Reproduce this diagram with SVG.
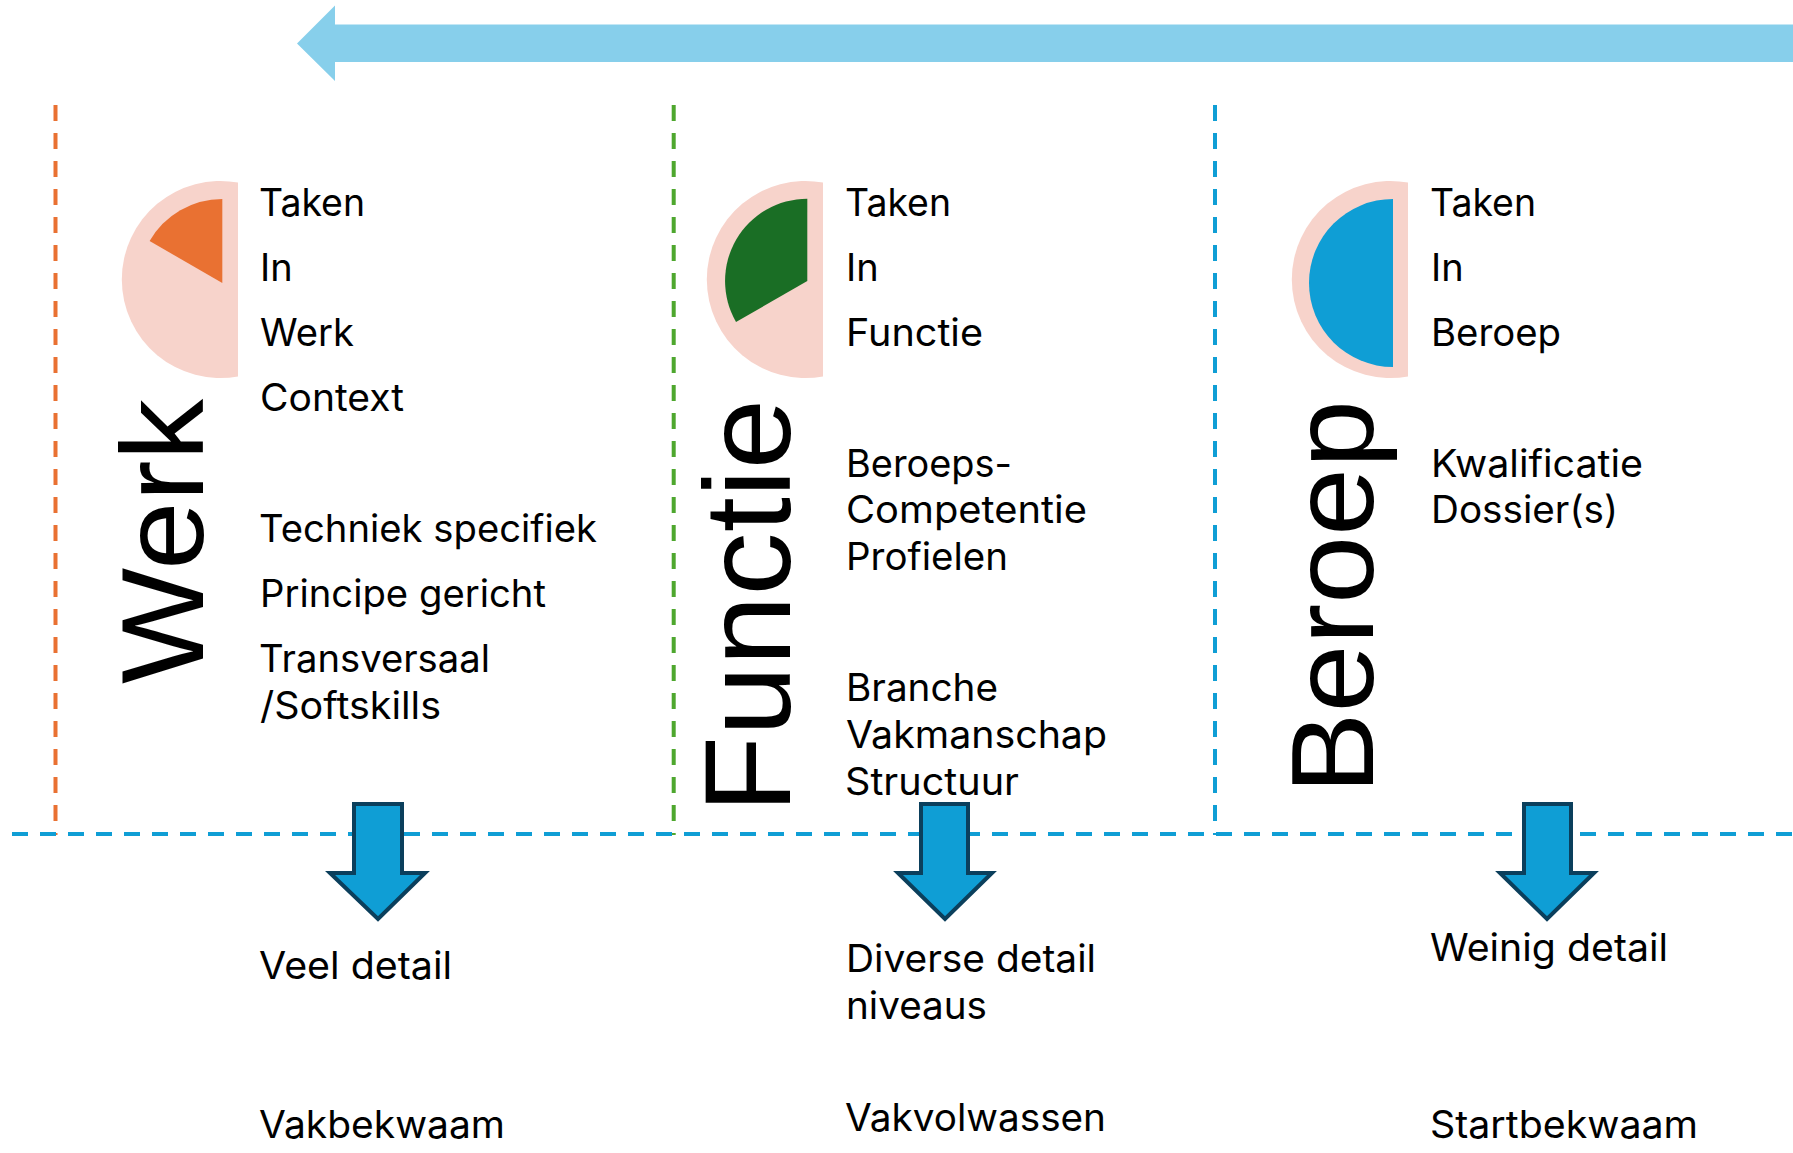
<svg xmlns="http://www.w3.org/2000/svg" width="1793" height="1153" viewBox="0 0 1793 1153">
<style>
.t{font-family:"Inter","Liberation Sans",sans-serif;font-size:38px;fill:#000}
.b{font-family:"Liberation Sans",sans-serif;font-size:117px;fill:#000}
.bg{fill:#f7d3cb}
.d{fill:none;stroke-width:4;stroke-dasharray:16 12}
.a{fill:#0f9ed5;stroke:#0b3f5c;stroke-width:4}
</style>
<rect width="1793" height="1153" fill="#fff"/>
<g id="connectors">
<path class="d" d="M55.500 105V835" stroke="#e97132"/>
<path class="d" d="M673.700 105V835" stroke="#4ea72e"/>
<path class="d" d="M1215 105V835" stroke="#0f9ed5"/>
<path class="d" d="M12 834H1793" stroke="#0f9ed5"/>
</g>
<path id="timeline" d="M1793 24.500H335V5.500L297 43.500L335 81V62H1793Z" fill="#87cfeb"/>
<g id="werk">
<path class="bg" d="M238 182.600A98.500 98.500 0 1 0 238 376.400Z"/>
<path d="M222.300 283V199A84 84 0 0 0 149.600 241Z" fill="#e97132"/>
<text class="b" transform="translate(203 684) rotate(-90)" textLength="285" lengthAdjust="spacingAndGlyphs">Werk</text>
<text class="t" x="259" y="216" textLength="106" lengthAdjust="spacingAndGlyphs">Taken</text><text class="t" x="260" y="281">In</text><text class="t" x="260" y="346" textLength="94" lengthAdjust="spacingAndGlyphs">Werk</text><text class="t" x="260" y="411" textLength="144" lengthAdjust="spacingAndGlyphs">Context</text>
<text class="t" x="259" y="542" textLength="338" lengthAdjust="spacingAndGlyphs">Techniek specifiek</text><text class="t" x="260" y="607" textLength="286" lengthAdjust="spacingAndGlyphs">Principe gericht</text><text class="t" x="259" y="672" textLength="231" lengthAdjust="spacingAndGlyphs">Transversaal</text><text class="t" x="260" y="719" textLength="181" lengthAdjust="spacingAndGlyphs">/Softskills</text>
<text class="t" x="259" y="979" textLength="193" lengthAdjust="spacingAndGlyphs">Veel detail</text><text class="t" x="259" y="1138" textLength="246" lengthAdjust="spacingAndGlyphs">Vakbekwaam</text>
<path class="a" d="M354 804H402V873H425L378 919L330 873H354Z"/>
</g>
<g id="functie">
<path class="bg" d="M823 182.600A98.500 98.500 0 1 0 823 376.400Z"/>
<path d="M807.300 281V198.700A82.300 82.300 0 0 0 736 322Z" fill="#1a6e25"/>
<text class="b" transform="translate(790 813) rotate(-90)" style="font-size:122px" textLength="414" lengthAdjust="spacingAndGlyphs">Functie</text>
<text class="t" x="845" y="216" textLength="106" lengthAdjust="spacingAndGlyphs">Taken</text><text class="t" x="846" y="281">In</text><text class="t" x="846" y="346" textLength="137" lengthAdjust="spacingAndGlyphs">Functie</text>
<text class="t" x="846" y="477" textLength="166" lengthAdjust="spacingAndGlyphs">Beroeps-</text><text class="t" x="846" y="523" textLength="241" lengthAdjust="spacingAndGlyphs">Competentie</text><text class="t" x="846" y="570" textLength="162" lengthAdjust="spacingAndGlyphs">Profielen</text>
<text class="t" x="846" y="701" textLength="152" lengthAdjust="spacingAndGlyphs">Branche</text><text class="t" x="846" y="748" textLength="261" lengthAdjust="spacingAndGlyphs">Vakmanschap</text><text class="t" x="845" y="795" textLength="174" lengthAdjust="spacingAndGlyphs">Structuur</text>
<text class="t" x="846" y="972" textLength="250" lengthAdjust="spacingAndGlyphs">Diverse detail</text><text class="t" x="846" y="1019" textLength="141" lengthAdjust="spacingAndGlyphs">niveaus</text><text class="t" x="845" y="1131" textLength="261" lengthAdjust="spacingAndGlyphs">Vakvolwassen</text>
<path class="a" d="M921 804H968V873H992L945 919L898 873H921Z"/>
</g>
<g id="beroep">
<path class="bg" d="M1408 182.600A98.500 98.500 0 1 0 1408 376.400Z"/>
<path d="M1393 199A84 84 0 0 0 1393 367Z" fill="#0f9ed5"/>
<text class="b" transform="translate(1373 794) rotate(-90)" textLength="394" lengthAdjust="spacingAndGlyphs">Beroep</text>
<text class="t" x="1430" y="216" textLength="106" lengthAdjust="spacingAndGlyphs">Taken</text><text class="t" x="1431" y="281">In</text><text class="t" x="1431" y="346" textLength="130" lengthAdjust="spacingAndGlyphs">Beroep</text>
<text class="t" x="1431" y="477" textLength="212" lengthAdjust="spacingAndGlyphs">Kwalificatie</text><text class="t" x="1431" y="523" textLength="187" lengthAdjust="spacingAndGlyphs">Dossier(s)</text>
<text class="t" x="1430" y="961" textLength="238" lengthAdjust="spacingAndGlyphs">Weinig detail</text><text class="t" x="1430" y="1138" textLength="268" lengthAdjust="spacingAndGlyphs">Startbekwaam</text>
<path class="a" d="M1524 804H1571V873H1594L1547 919L1500 873H1524Z"/>
</g>
</svg>
